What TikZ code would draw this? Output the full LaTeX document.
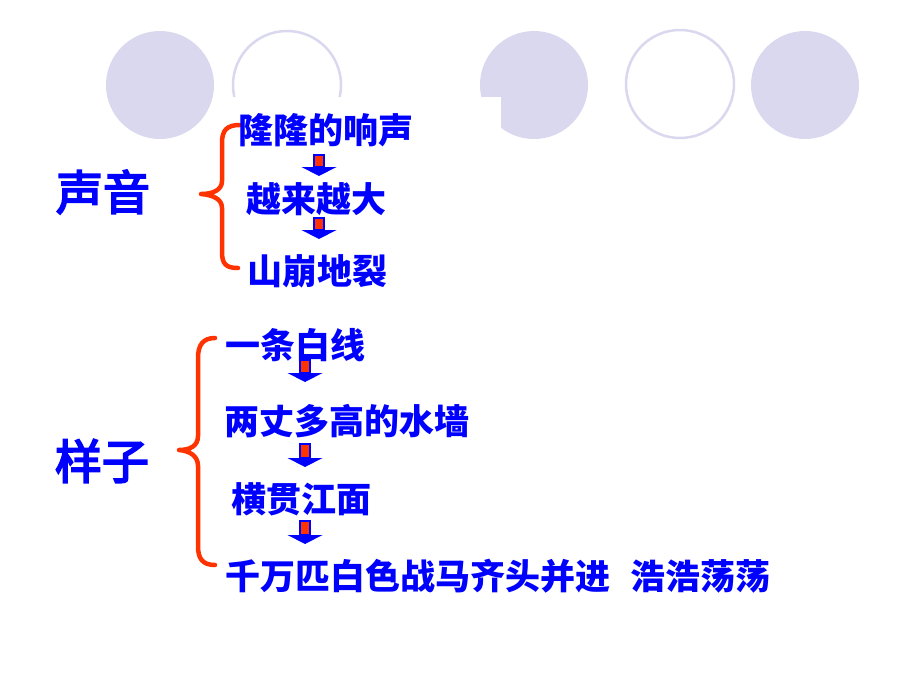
\documentclass[tikz,border=0pt]{standalone}
\usepackage{fontspec}
\newfontfamily\cjk{Noto Sans CJK SC}
\newfontfamily\cjkbig{Noto Sans CJK SC}[FakeBold=4]
\definecolor{lav}{RGB}{217,216,238}
\definecolor{txtblue}{RGB}{0,0,255}
\definecolor{bracered}{RGB}{255,51,0}
\newcommand\dnarrow[4]{%
  \fill[txtblue] (#1-17.5,#3) -- (#1+17.5,#3) -- (#1,#4) -- cycle;
  \draw[txtblue, line width=2.4pt, fill=bracered] (#1-5,#2) rectangle (#1+5,#3+0.5);
}
\begin{document}
\begin{tikzpicture}[x=1pt,y=-1pt,
  big/.style={inner sep=0pt, text=txtblue, font=\cjkbig\fontsize{47}{52}\selectfont},
  item/.style={inner sep=0pt, text=txtblue, font=\cjk\bfseries\fontsize{35}{40}\selectfont},
  brace/.style={draw=bracered, line width=4.5pt, line cap=round, line join=round},
  ring/.style={draw=lav, line width=2.5pt}]
\useasboundingbox (0,0) rectangle (900,675);
\fill[white] (0,0) rectangle (900,675);
% circles
\fill[lav] (160,85) circle (54);
\draw[ring] (287,85) circle (54);
\fill[lav] (534,85) circle (54);
\draw[ring] (680,84) circle (54);
\fill[lav] (805,85) circle (54);
% white box behind first text column
\fill[white] (224,97) rectangle (501,300);
% braces
\draw[brace] (240,125) .. controls (227,125) and (222,130) .. (222,143) -- (222,181)
  .. controls (222,190) and (213,194) .. (201,194)
  .. controls (213,195) and (222,199) .. (222,208) -- (222,252)
  .. controls (222,264) and (226,268) .. (238,268);
\draw[brace] (215,338) .. controls (203,338) and (198,345) .. (198,358) -- (198,436)
  .. controls (198,446) and (190,450) .. (179,450)
  .. controls (190,451) and (198,456) .. (198,466) -- (198,546)
  .. controls (198,558) and (202,565) .. (215,565);
% labels
\node[big] (sy) at (103,192) {声音};
\node[big] (yz) at (102,461) {样子};
\node[item] (a1) at (326,130) {隆隆的响声};
\node[item] (a2) at (316,199) {越来越大};
\node[item] (a3) at (317,271) {山崩地裂};
\node[item] (b1) at (295,345) {一条白线};
\node[item] (b2) at (347,421) {两丈多高的水墙};
\node[item] (b3) at (301,499) {横贯江面};
\node[item] (b4) at (498,576) {千万匹白色战马齐头并进\hspace{20pt}浩浩荡荡};
% arrows
\dnarrow{319}{155}{167}{176}
\dnarrow{319}{218}{230}{239}
\dnarrow{305}{360}{373}{382}
\dnarrow{305}{444}{458}{467}
\dnarrow{305}{521}{535}{544}
\end{tikzpicture}
\end{document}
